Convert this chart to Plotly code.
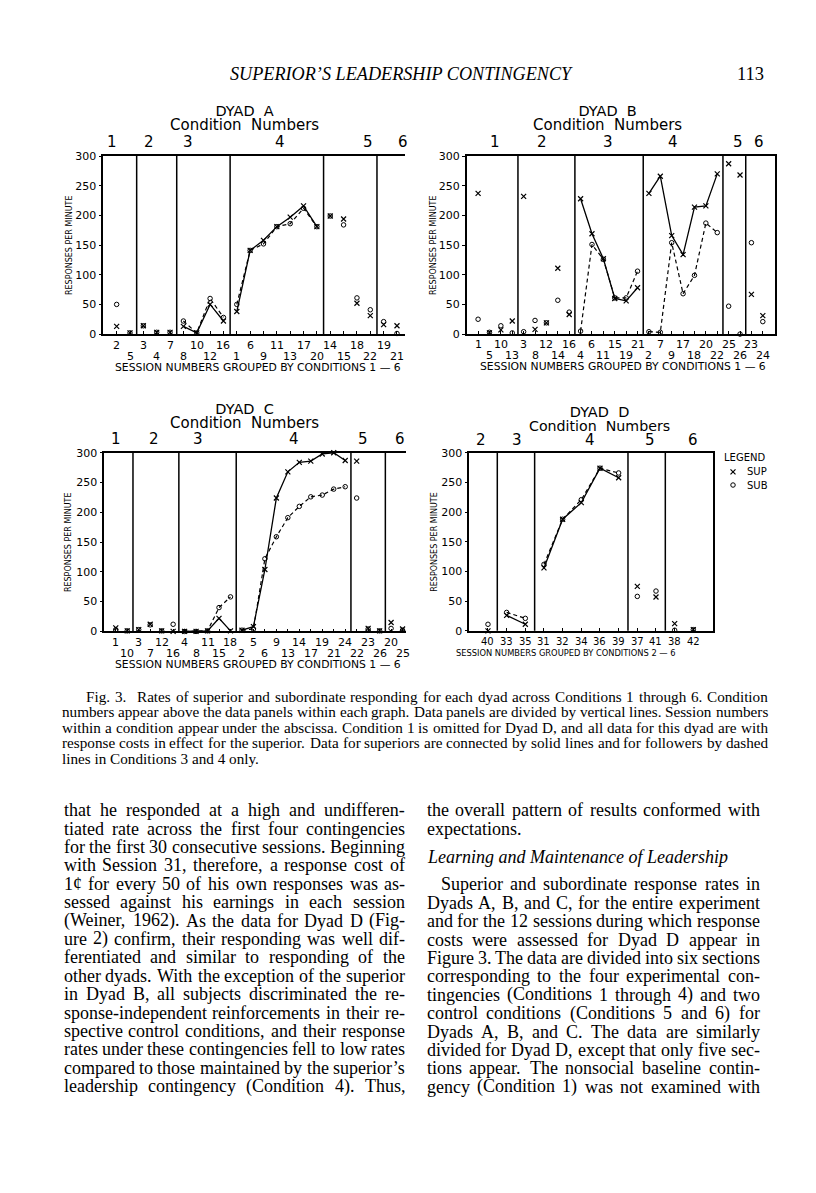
import plotly.graph_objects as go

W, H = 816, 1193

# ---------------- data ----------------
# Dyad A
a_sessions = [2, 5, 3, 4, 7, 8, 10, 12, 16, 1, 6, 9, 11, 13, 17, 20, 14, 15, 18, 22, 19, 21]
a_sizes = [2, 3, 4, 7, 4, 2]
a_conditions = ["1", "2", "3", "4", "5", "6"]
a_sup = [13, 2, 14, 3, 3, 13, 2, 50, 22, 38, 141, 158, 181, 197, 216, 181, 199, 194, 52, 31, 16, 14]
a_sub = [50, 2, 14, 3, 3, 22, 2, 60, 28, 50, 141, 152, 181, 186, 212, 181, 199, 184, 61, 41, 21, 1]

# Dyad B
b_sessions = [1, 5, 10, 13, 3, 8, 12, 14, 16, 4, 6, 11, 15, 19, 21, 2, 7, 9, 17, 18, 20, 22, 25, 26, 23, 24]
b_sizes = [4, 5, 6, 7, 2, 2]
b_conditions = ["1", "2", "3", "4", "5", "6"]
b_sup = [237, 2, 7, 22, 232, 8, 19, 111, 33, 228, 169, 127, 60, 56, 78, 237, 266, 166, 134, 214, 216, 270, 287, 268, 67, 31]
b_sub = [25, 3, 14, 2, 4, 23, 19, 57, 37, 5, 151, 126, 61, 61, 106, 4, 3, 154, 68, 99, 187, 171, 47, 0, 154, 21]

# Dyad C
c_sessions = [1, 10, 3, 7, 12, 16, 4, 8, 11, 15, 18, 2, 5, 6, 9, 13, 14, 17, 19, 21, 24, 22, 23, 26, 20, 25]
c_sizes = [2, 4, 5, 10, 3, 2]
c_conditions = ["1", "2", "3", "4", "5", "6"]
c_sup = [6, 1, 3, 12, 1, 0, 0, 0, 1, 22, 1, 2, 8, 104, 224, 268, 284, 286, 298, 300, 287, 286, 5, 1, 15, 4]
c_sub = [3, 1, 3, 11, 1, 12, 0, 0, 1, 40, 58, 2, 4, 122, 159, 191, 210, 226, 229, 239, 243, 224, 4, 1, 5, 2]

# Dyad D
d_sessions = [40, 33, 35, 31, 32, 34, 36, 39, 37, 41, 38, 42]
d_sizes = [1, 2, 5, 2, 2]
d_conditions = ["2", "3", "4", "5", "6"]
d_sup = [0, 26, 11, 106, 188, 216, 274, 258, 75, 57, 12, 2]
d_sub = [11, 31, 21, 112, 188, 221, 274, 266, 58, 67, 1, 2]

y_ticks = [0, 50, 100, 150, 200, 250, 300]

header_title = "SUPERIOR\u2019S LEADERSHIP CONTINGENCY"
page_number = "113"

caption_lines = [
    "Fig. 3. Rates of superior and subordinate responding for each dyad across Conditions 1 through 6. Condition",
    "numbers appear above the data panels within each graph. Data panels are divided by vertical lines. Session numbers",
    "within a condition appear under the abscissa. Condition 1 is omitted for Dyad D, and all data for this dyad are with",
    "response costs in effect for the superior. Data for superiors are connected by solid lines and for followers by dashed",
    "lines in Conditions 3 and 4 only.",
]

left_col = [
    "that he responded at a high and undifferen-",
    "tiated rate across the first four contingencies",
    "for the first 30 consecutive sessions. Beginning",
    "with Session 31, therefore, a response cost of",
    "1\u00a2 for every 50 of his own responses was as-",
    "sessed against his earnings in each session",
    "(Weiner, 1962). As the data for Dyad D (Fig-",
    "ure 2) confirm, their responding was well dif-",
    "ferentiated and similar to responding of the",
    "other dyads. With the exception of the superior",
    "in Dyad B, all subjects discriminated the re-",
    "sponse-independent reinforcements in their re-",
    "spective control conditions, and their response",
    "rates under these contingencies fell to low rates",
    "compared to those maintained by the superior\u2019s",
    "leadership contingency (Condition 4). Thus,",
]

right_col_top = [
    "the overall pattern of results conformed with",
    "expectations.",
]
right_heading = "Learning and Maintenance of Leadership"
right_col = [
    "Superior and subordinate response rates in",
    "Dyads A, B, and C, for the entire experiment",
    "and for the 12 sessions during which response",
    "costs were assessed for Dyad D appear in",
    "Figure 3. The data are divided into six sections",
    "corresponding to the four experimental con-",
    "tingencies (Conditions 1 through 4) and two",
    "control conditions (Conditions 5 and 6) for",
    "Dyads A, B, and C. The data are similarly",
    "divided for Dyad D, except that only five sec-",
    "tions appear. The nonsocial baseline contin-",
    "gency (Condition 1) was not examined with",
]

# ---------------- layout helpers ----------------
PLOT_FONT = "DejaVu Sans"
SERIF = "Liberation Serif"
BODY_SIZE = 18
CAP_SIZE = 15.2

# Times/Liberation Serif advance widths (per 1000 em) used to justify text lines
_TW = dict(zip("abcdefghijklmnopqrstuvwxyz",
               [444, 500, 444, 500, 444, 333, 500, 500, 278, 278, 500, 278, 778,
                500, 500, 500, 500, 333, 389, 278, 500, 500, 722, 500, 500, 444]))
_TW.update(zip("ABCDEFGHIJKLMNOPQRSTUVWXYZ",
               [722, 667, 667, 722, 611, 556, 722, 722, 333, 389, 722, 611, 889,
                722, 722, 556, 722, 667, 556, 611, 722, 722, 944, 722, 722, 611]))
_TW.update({" ": 250, ".": 250, ",": 250, ":": 278, ";": 278, "-": 333, "(": 333, ")": 333,
            "\u2019": 333, "'": 180, "\u00a2": 500})
for _d in "0123456789":
    _TW[_d] = 500


def text_w(s, size):
    return sum(_TW.get(ch, 500) for ch in s) * size / 1000.0


def px_x(p):
    return p / W


def px_y(p):
    return 1 - p / H


annotations = []


def add_line(line, x0, x1, y, size, justify=True, style="normal", extra_after=None):
    if not justify:
        annotations.append(dict(x=px_x(x0), y=px_y(y), xref="paper", yref="paper", text=line,
                                showarrow=False, xanchor="left", yanchor="middle",
                                borderpad=0, borderwidth=0,
                                font=dict(family=SERIF, size=size, color="black", style=style)))
        return
    words = line.split(" ")
    widths = [text_w(w, size) for w in words]
    extra = extra_after[1] if extra_after else 0
    gap = (x1 - x0 - sum(widths) - extra) / max(len(words) - 1, 1)
    x = x0
    for k, (w, wd) in enumerate(zip(words, widths)):
        annotations.append(dict(x=px_x(x), y=px_y(y), xref="paper", yref="paper", text=w,
                                showarrow=False, xanchor="left", yanchor="middle",
                                borderpad=0, borderwidth=0,
                                font=dict(family=SERIF, size=size, color="black", style=style)))
        x += wd + gap
        if extra_after and k == extra_after[0]:
            x += extra


panels = [
    dict(key="A", title="DYAD\u00a0\u00a0A", sessions=a_sessions, sizes=a_sizes, conds=a_conditions,
         sup=a_sup, sub=a_sub, box=(103.3, 151.7, 405.0, 331.7), xmax=22.6, right=False,
         title_xy=(244, 107), ctitle_y=121, ctitle_size=15, cnum_y=137,
         cnum_px=[111.7, 149.3, 187.7, 280, 368.3, 403.3],
         rows=(343.3, 354.3), tick_size=11, stitle=(257.5, 365.5, "1 \u2014 6"), stitle_size=10.8, ylab_x=69),
    dict(key="B", title="DYAD\u00a0\u00a0B", sessions=b_sessions, sizes=b_sizes, conds=b_conditions,
         sup=b_sup, sub=b_sub, box=(466.7, 151.7, 775.0, 331.7), xmax=27.07, right=True,
         title_xy=(607.5, 107), ctitle_y=121, ctitle_size=15, cnum_y=137.5,
         cnum_px=[495, 541.7, 608.3, 673.3, 738.3, 759.3],
         rows=(342.5, 353.5), tick_size=11, stitle=(623.3, 364.5, "1 \u2014 6"), stitle_size=10.8, ylab_x=433),
    dict(key="C", title="DYAD\u00a0\u00a0C", sessions=c_sessions, sizes=c_sizes, conds=c_conditions,
         sup=c_sup, sub=c_sub, box=(104.3, 451.7, 406.0, 632.3), xmax=26.3, right=False,
         title_xy=(244, 408.3), ctitle_y=422.3, ctitle_size=15, cnum_y=437.7,
         cnum_px=[116, 154, 198.3, 294.3, 363.3, 400],
         rows=(643.3, 654.3), tick_size=11, stitle=(257.5, 665.7, "1 \u2014 6"), stitle_size=10.8, ylab_x=68),
    dict(key="D", title="DYAD\u00a0\u00a0D", sessions=d_sessions, sizes=d_sizes, conds=d_conditions,
         sup=d_sup, sub=d_sub, box=(469.3, 451.7, 713.3, 631.7), xmax=13.07, right=True,
         title_xy=(599, 410), ctitle_y=424.3, ctitle_size=14.2, cnum_y=439,
         cnum_px=[481, 516.7, 590, 650, 693.3],
         rows=(642.5, 642.5), tick_size=10, stitle=(566, 653.8, "2 \u2014 6"), stitle_size=8.3, ylab_x=435),
]

fig = go.Figure()
shapes = []
layout = {}

for idx, p in enumerate(panels, start=1):
    xa = "x" if idx == 1 else f"x{idx}"
    ya = "y" if idx == 1 else f"y{idx}"
    xname = "xaxis" if idx == 1 else f"xaxis{idx}"
    yname = "yaxis" if idx == 1 else f"yaxis{idx}"
    left, top, right, bottom = p["box"]
    n = len(p["sessions"])
    xs = list(range(1, n + 1))
    spacing = (right - left) / p["xmax"]

    layout[xname] = dict(
        domain=[px_x(left), px_x(right)], range=[0, p["xmax"]], anchor=ya,
        showgrid=False, zeroline=False, showline=True, linecolor="black", linewidth=1.5,
        mirror=True, ticks="inside", ticklen=3, tickwidth=1, tickcolor="black",
        tickvals=xs, showticklabels=False, fixedrange=True,
    )
    layout[yname] = dict(
        domain=[px_y(bottom), px_y(top)], range=[0, 300], anchor=xa,
        showgrid=False, zeroline=False, showline=True, linecolor="black", linewidth=1.5,
        mirror=p["right"], ticks="outside", ticklen=3, tickwidth=1, tickcolor="black",
        tickvals=y_ticks, tickfont=dict(family=PLOT_FONT, size=11, color="black"), fixedrange=True,
    )

    # condition dividers
    edge = 0
    bounds = []
    for s in p["sizes"]:
        bounds.append((edge, edge + s))
        edge += s
    for (_, e) in bounds[:-1]:
        shapes.append(dict(type="line", xref=xa, yref=f"{ya} domain", x0=e + 0.5, x1=e + 0.5,
                           y0=0, y1=1, line=dict(color="black", width=1.5)))

    # markers
    fig.add_trace(go.Scatter(x=xs, y=p["sup"], mode="markers", xaxis=xa, yaxis=ya, cliponaxis=False,
                             marker=dict(symbol="x-thin", size=5, color="black",
                                         line=dict(width=1.2, color="black")),
                             showlegend=False, hoverinfo="skip"))
    fig.add_trace(go.Scatter(x=xs, y=p["sub"], mode="markers", xaxis=xa, yaxis=ya, cliponaxis=False,
                             marker=dict(symbol="circle-open", size=4.5, color="black",
                                         line=dict(width=1, color="black")),
                             showlegend=False, hoverinfo="skip"))
    # connecting lines in conditions 3 and 4
    for ci, cond in enumerate(p["conds"]):
        if cond not in ("3", "4"):
            continue
        a, b = bounds[ci]
        seg_x = xs[a:b]
        fig.add_trace(go.Scatter(x=seg_x, y=p["sup"][a:b], mode="lines", xaxis=xa, yaxis=ya,
                                 cliponaxis=False, line=dict(color="black", width=1.3),
                                 showlegend=False, hoverinfo="skip"))
        fig.add_trace(go.Scatter(x=seg_x, y=p["sub"][a:b], mode="lines", xaxis=xa, yaxis=ya,
                                 cliponaxis=False, line=dict(color="black", width=1.2, dash="4px,3px"),
                                 showlegend=False, hoverinfo="skip"))

    # session tick labels (two staggered rows)
    for i, s in enumerate(p["sessions"]):
        row_y = p["rows"][i % 2]
        annotations.append(dict(x=xs[i], xref=xa, y=px_y(row_y), yref="paper", text=str(s),
                                showarrow=False, xanchor="center", yanchor="middle",
                                font=dict(family=PLOT_FONT, size=p["tick_size"], color="black")))

    # title block: dyad name and "Condition Numbers" as one two-line text with tight leading
    tx, ty = p["title_xy"]
    lead = p["ctitle_y"] - ty
    title_html = (f'<span style="font-size:14.5px">{p["title"]}</span><br>'
                  f'<span style="font-size:{p["ctitle_size"]}px">Condition\u00a0\u00a0Numbers</span>')
    annotations.append(dict(x=px_x(tx), y=px_y((ty + p["ctitle_y"]) / 2), xref="paper", yref="paper",
                            text=title_html, showarrow=False, xanchor="center", yanchor="middle",
                            borderpad=0, align="center",
                            font=dict(family=PLOT_FONT, size=lead / 1.3, color="black")))
    for c, cx in zip(p["conds"], p["cnum_px"]):
        annotations.append(dict(x=(cx - left) / spacing, xref=xa, y=px_y(p["cnum_y"]), yref="paper",
                                text=c, showarrow=False, xanchor="center", yanchor="middle", borderpad=0,
                                font=dict(family=PLOT_FONT, size=15, color="black")))
    sx, sy, rng = p["stitle"]
    annotations.append(dict(x=px_x(sx), y=px_y(sy), xref="paper", yref="paper",
                            text="SESSION NUMBERS GROUPED BY CONDITIONS " + rng, showarrow=False,
                            xanchor="center", yanchor="middle",
                            font=dict(family=PLOT_FONT, size=p["stitle_size"], color="black")))
    annotations.append(dict(x=px_x(p["ylab_x"]), y=px_y((top + bottom) / 2), xref="paper", yref="paper",
                            text="RESPONSES PER MINUTE", textangle=-90, showarrow=False,
                            xanchor="center", yanchor="middle",
                            font=dict(family=PLOT_FONT, size=8, color="black")))

# legend for Dyad D (hidden mini axis)
layout["xaxis5"] = dict(domain=[px_x(728), px_x(738)], range=[-1, 1], visible=False, anchor="y5",
                        fixedrange=True)
layout["yaxis5"] = dict(domain=[px_y(484.3), px_y(471)], range=[0, 1], visible=False, anchor="x5",
                        fixedrange=True)
fig.add_trace(go.Scatter(x=[0], y=[1], mode="markers", xaxis="x5", yaxis="y5", cliponaxis=False,
                         marker=dict(symbol="x-thin", size=5, color="black", line=dict(width=1.2, color="black")),
                         showlegend=False, hoverinfo="skip"))
fig.add_trace(go.Scatter(x=[0], y=[0], mode="markers", xaxis="x5", yaxis="y5", cliponaxis=False,
                         marker=dict(symbol="circle-open", size=4.5, color="black", line=dict(width=1, color="black")),
                         showlegend=False, hoverinfo="skip"))
annotations.append(dict(x=px_x(722), y=px_y(456), xref="paper", yref="paper", text="LEGEND",
                        showarrow=False, xanchor="left", yanchor="middle",
                        font=dict(family=PLOT_FONT, size=10, color="black")))
for lab, yy in (("SUP", 471), ("SUB", 484.3)):
    annotations.append(dict(x=px_x(745), y=px_y(yy), xref="paper", yref="paper", text=lab,
                            showarrow=False, xanchor="left", yanchor="middle",
                            font=dict(family=PLOT_FONT, size=10, color="black")))

# page header
annotations.append(dict(x=px_x(401), y=px_y(69), xref="paper", yref="paper", text=header_title,
                        showarrow=False, xanchor="center", yanchor="middle",
                        font=dict(family=SERIF, size=18.2, color="black", style="italic")))
annotations.append(dict(x=px_x(766), y=px_y(69), xref="paper", yref="paper", text=page_number,
                        showarrow=False, xanchor="right", yanchor="middle",
                        font=dict(family=SERIF, size=18.5, color="black")))

# caption (justified)
CAP_X0, CAP_X1 = 62, 768
for i, line in enumerate(caption_lines):
    last = i == len(caption_lines) - 1
    x0 = 86 if i == 0 else CAP_X0
    add_line(line, x0, CAP_X1, 698 + i * 15.6, CAP_SIZE, justify=not last,
             extra_after=(1, 6) if i == 0 else None)

# body text (justified columns)
L_X0, L_X1 = 63.5, 405
R_X0, R_X1 = 426.5, 760
for i, line in enumerate(left_col):
    add_line(line, L_X0, L_X1, 813 + i * 18.6, BODY_SIZE, justify=True)
add_line(right_col_top[0], R_X0, R_X1, 813, BODY_SIZE, justify=True)
add_line(right_col_top[1], R_X0, R_X1, 813 + 18.6, BODY_SIZE, justify=False)
add_line(right_heading, R_X0, R_X1, 860, BODY_SIZE, justify=False, style="italic")
for i, line in enumerate(right_col):
    x0 = R_X0 + 14 if i == 0 else R_X0
    add_line(line, x0, R_X1, 888 + i * 18.6, BODY_SIZE, justify=True)

fig.update_layout(
    width=W, height=H, autosize=False,
    margin=dict(l=0, r=0, t=0, b=0),
    paper_bgcolor="white", plot_bgcolor="white",
    showlegend=False,
    annotations=annotations, shapes=shapes,
    **layout,
)

fig.write_html(
    "out.html",
    config={"displayModeBar": False},
    post_script="document.body.style.margin='0px';document.documentElement.style.overflow='hidden';",
)
